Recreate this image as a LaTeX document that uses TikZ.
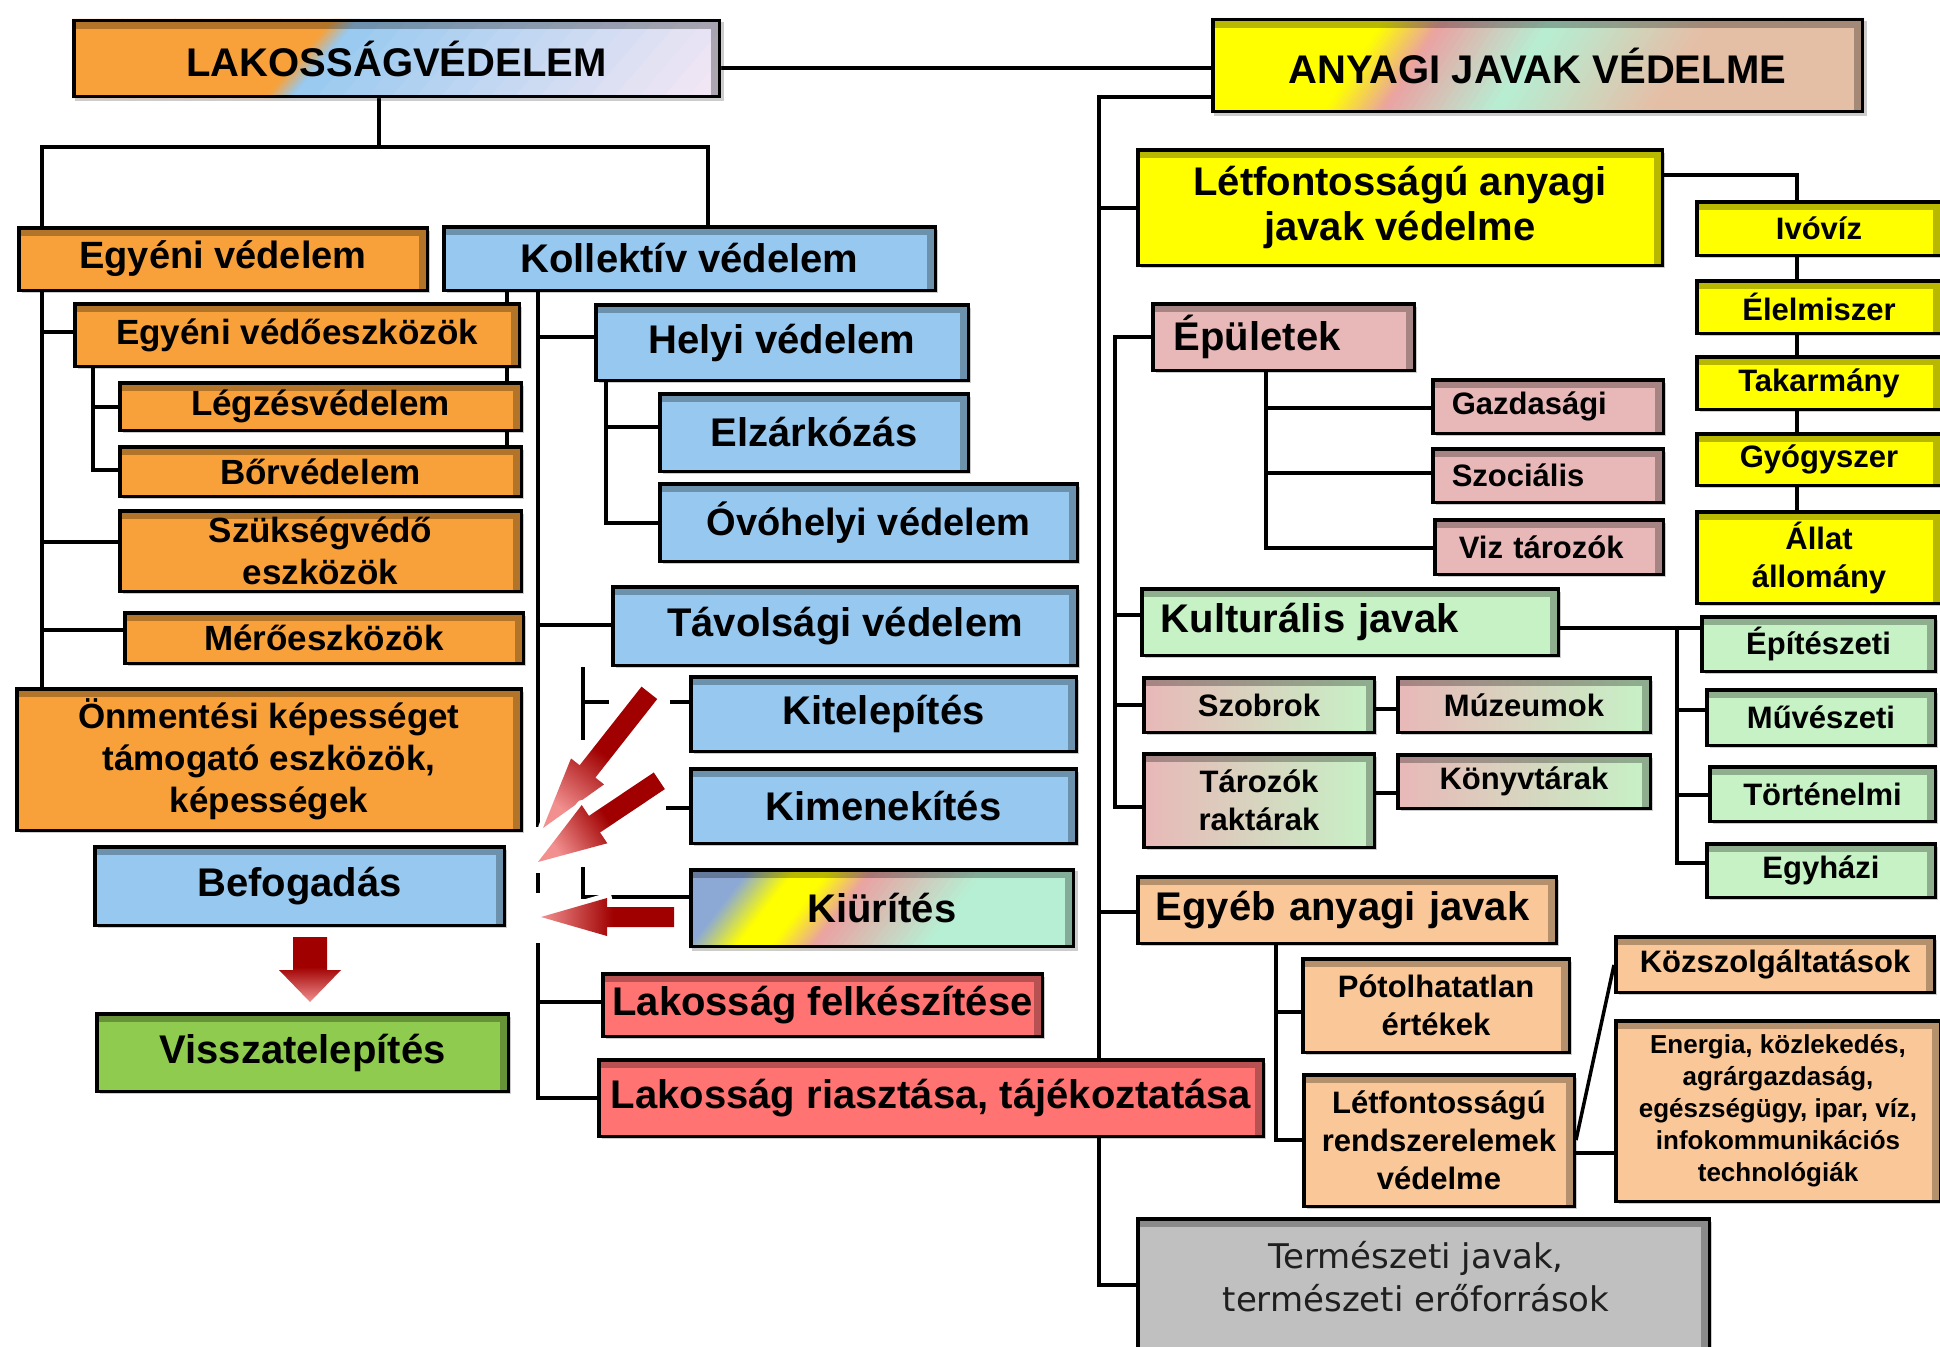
\documentclass[tikz,border=0pt]{standalone}
\usepackage{fontspec}
\setmainfont{Liberation Sans}
\newfontfamily\dvs{DejaVu Sans}
\usetikzlibrary{shadows,calc}
\pgfdeclarelayer{bg}
\pgfsetlayers{bg,main}

\definecolor{cOr}{HTML}{F8A13A}
\definecolor{cBl}{HTML}{97C9F0}
\definecolor{cRd}{HTML}{FF7373}
\definecolor{cGr}{HTML}{8FCB4E}
\definecolor{cYe}{HTML}{FFFF00}
\definecolor{cPk}{HTML}{E8B8B8}
\definecolor{cLg}{HTML}{C6F2C6}
\definecolor{cPe}{HTML}{FAC898}
\definecolor{cGy}{HTML}{C0C0C0}
\definecolor{cLav}{HTML}{F0E6F4}
\definecolor{cBg}{HTML}{8CA9D6}
\definecolor{cMint}{HTML}{B6EFD4}
\definecolor{cTan}{HTML}{E4BFA6}
\definecolor{cPkk}{HTML}{EAA2A2}
\definecolor{arD}{HTML}{A00000}
\definecolor{arL}{HTML}{F29090}

\pgfdeclarehorizontalshading{arrsh}{100bp}{color(0bp)=(arL); color(25bp)=(arL); color(52bp)=(arD); color(100bp)=(arD)}

\tikzset{
  box/.style={draw=black, line width=3.5pt, rectangle, inner sep=0pt, align=center, text=black,
    path picture={
      \fill[black,opacity=0.28] (path picture bounding box.north west) rectangle ([yshift=-8pt]path picture bounding box.north east);
      \fill[black,opacity=0.28] ([xshift=-8pt,yshift=-8pt]path picture bounding box.north east) rectangle (path picture bounding box.south east);}},
  shd/.style={drop shadow={shadow xshift=3pt, shadow yshift=-3pt, opacity=0.2, fill=black}},
  fA/.style={font=\bfseries\fontsize{40}{45}\selectfont},
  fAs/.style={font=\bfseries\fontsize{38}{45}\selectfont},
  fB/.style={font=\bfseries\fontsize{35}{42}\selectfont},
  fC/.style={font=\bfseries\fontsize{31}{38}\selectfont},
  fD/.style={font=\bfseries\fontsize{26}{32}\selectfont},
  oBox/.style={fill=cOr, shd},
  bBox/.style={fill=cBl, shd},
  rBox/.style={fill=cRd, shd},
  gBox/.style={fill=cGr, shd},
  yBox/.style={fill=cYe, shd},
  pBox/.style={fill=cPk, shd},
  lBox/.style={fill=cLg, shd},
  eBox/.style={fill=cPe, shd},
  tBox/.style={fill=cGy, shd},
  pgBox/.style={left color=cPk, right color=cLg, shd},
  ln/.style={line width=3.5pt, draw=black},
}

% box given by its outer corners: [options]{name}{x1}{y1}{x2}{y2}{text}
\newcommand\bx[7][]{%
  \pgfmathsetmacro\bw{#5-#3-3.5}%
  \pgfmathsetmacro\bh{#6-#4-3.5}%
  \node[box,minimum width=\bw pt,minimum height=\bh pt,#1] (#2) at ({(#3+#5)/2},{(#4+#6)/2}) {#7};}
% same, text flush left with a given padding
\newcommand\bxl[8][]{%
  \pgfmathsetmacro\bw{#5-#3-3.5}%
  \pgfmathsetmacro\bh{#6-#4-3.5}%
  \pgfmathsetmacro\tw{#5-#3-3.5-2*#7}%
  \node[box,minimum width=\bw pt,minimum height=\bh pt,text width=\tw pt,align=left,#1] (#2) at ({(#3+#5)/2},{(#4+#6)/2}) {#8};}
% slanted multi-colour fill: x1 y1 x2 y2, half slant, segments from/to/colour/colour
\newcommand\sgrad[6]{%
  \begin{scope}
    \fill[black,opacity=0.2] (#1+3,#2+3) rectangle (#3+3,#4+3);
    \clip (#1,#2) rectangle (#3,#4);
    \foreach \ta/\tb/\ca/\cb in {#6} {
      \foreach \k in {0,...,15} {
        \pgfmathsetmacro\xu{#1+((\ta)+((\tb)-(\ta))*\k/16)*(#3-#1)}
        \pgfmathsetmacro\xv{#1+((\ta)+((\tb)-(\ta))*(\k+1)/16)*(#3-#1)+0.8}
        \pgfmathtruncatemacro\pc{100-100*(\k+0.5)/16}
        \fill[fill=\ca!\pc!\cb] (\xu-#5,#4) -- (\xv-#5,#4) -- (\xv+#5,#2) -- (\xu+#5,#2) -- cycle;
      }
    }
  \end{scope}}
% block arrow: tip x, tip y, direction to tail, length, head length, head half width, shaft half width, shading angle
\newcommand\rarrow[8]{%
  \shade[shading=arrsh, shading angle=#8,
    preaction={draw=white, line width=10pt, line join=round, fill=white}]
    (#1,#2) -- ($(#1,#2)+(#3:#5)+({#3+90}:#6)$) -- ($(#1,#2)+(#3:#5)+({#3+90}:#7)$)
    -- ($(#1,#2)+(#3:#4)+({#3+90}:#7)$) -- ($(#1,#2)+(#3:#4)+({#3-90}:#7)$)
    -- ($(#1,#2)+(#3:#5)+({#3-90}:#7)$) -- ($(#1,#2)+(#3:#5)+({#3-90}:#6)$) -- cycle;}

\begin{document}
\begin{tikzpicture}[x=1pt,y=-1pt]
\useasboundingbox (0,0) rectangle (1940,1346);
\clip (0,0) rectangle (1940,1346);

% ---------- population protection ----------
\sgrad{72}{19}{721}{98}{34}{-0.3/0.35/cOr/cOr, 0.35/0.39/cOr/cBl, 0.39/1.0/cBl/cLav, 1.0/1.3/cLav/cLav}
\bx[fA]{lak}{72}{19}{721}{98}{LAKOSSÁGVÉDELEM}
\bx[oBox,fAs]{egy}{17}{226}{429}{292}{Egyéni védelem}
\bx[bBox,fA]{kol}{442}{225}{937}{292}{Kollektív védelem}
\bx[oBox,fB]{eve}{73}{302}{521}{368}{Egyéni védőeszközök}
\bx[oBox,fB]{lgz}{118}{381}{523}{432}{Légzésvédelem}
\bx[oBox,fB]{bor}{118}{445}{523}{498}{Bőrvédelem}
\bx[oBox,fB]{szv}{118}{509}{523}{593}{Szükségvédő\\eszközök}
\bx[oBox,fB]{mer}{123}{611}{525}{665}{Mérőeszközök}
\bx[oBox,fB]{onm}{15}{687}{523}{832}{Önmentési képességet\\támogató eszközök,\\képességek}
\bx[bBox,fA]{bef}{93}{845}{506}{927}{Befogadás}
\bx[gBox,fA]{vis}{95}{1012}{510}{1093}{Visszatelepítés}
\bx[bBox,fA]{hel}{594}{303}{970}{382}{Helyi védelem}
\bx[bBox,fA]{elz}{658}{392}{970}{473}{Elzárkózás}
\bx[bBox,fAs]{ovo}{658}{482}{1079}{563}{Óvóhelyi védelem}
\bx[bBox,fA]{tav}{611}{585}{1079}{667}{Távolsági védelem}
\bx[bBox,fA]{kit}{689}{675}{1078}{753}{Kitelepítés}
\bx[bBox,fA]{kim}{689}{767}{1078}{845}{Kimenekítés}
\sgrad{689}{868}{1075}{948}{31}{-0.3/0.08/cBg/cBg, 0.08/0.2/cBg/cYe, 0.2/0.29/cYe/cYe, 0.29/0.4/cYe/cPkk, 0.4/0.69/cPkk/cMint, 0.69/1.3/cMint/cMint}
\bx[fA]{kiu}{689}{868}{1075}{948}{Kiürítés}
\bx[rBox,fA]{lfe}{601}{972}{1044}{1038}{Lakosság felkészítése}
\bx[rBox,fA]{lri}{597}{1058}{1265}{1138}{Lakosság riasztása, tájékoztatása}

% ---------- protection of material goods ----------
\sgrad{1211}{18}{1864}{113}{31}{-0.3/0.22/cYe/cYe, 0.22/0.31/cYe/cPkk, 0.31/0.48/cPkk/cMint, 0.48/0.72/cMint/cTan, 0.72/1.3/cTan/cTan}
\bx[fA]{any}{1211}{18}{1864}{113}{ANYAGI JAVAK VÉDELME}
\bx[yBox,fA]{lan}{1136}{148}{1664}{267}{Létfontosságú anyagi\\javak védelme}
\bx[yBox,fC]{ivo}{1695}{200}{1943}{257}{Ivóvíz}
\bx[yBox,fC]{ele}{1695}{279}{1943}{335}{Élelmiszer}
\bx[yBox,fC]{tak}{1695}{355}{1943}{411}{Takarmány}
\bx[yBox,fC]{gyo}{1695}{432}{1943}{487}{Gyógyszer}
\bx[yBox,fC]{all}{1695}{510}{1943}{605}{Állat\\állomány}
\bxl[pBox,fA]{epu}{1151}{302}{1416}{372}{21}{Épületek}
\bxl[pBox,fC]{gaz}{1431}{378}{1665}{435}{19}{Gazdasági}
\bxl[pBox,fC]{szo}{1431}{447}{1665}{504}{19}{Szociális}
\bxl[pBox,fC]{viz}{1433}{518}{1665}{576}{24}{Viz tározók}
\bxl[lBox,fA]{kul}{1140}{587}{1560}{657}{19}{Kulturális javak}
\bx[lBox,fC]{esz}{1700}{615}{1937}{673}{Építészeti}
\bx[lBox,fC]{muv}{1705}{688}{1937}{747}{Művészeti}
\bx[lBox,fC]{tor}{1708}{765}{1937}{823}{Történelmi}
\bx[lBox,fC]{egh}{1705}{842}{1937}{899}{Egyházi}
\bx[pgBox,fC]{szb}{1142}{676}{1376}{734}{Szobrok}
\bx[pgBox,fC]{muz}{1396}{676}{1652}{734}{Múzeumok}
\bx[pgBox,fC]{tar}{1142}{752}{1376}{849}{Tározók\\raktárak}
\bx[pgBox,fC]{kon}{1396}{753}{1652}{810}{Könyvtárak}
\bxl[eBox,fA]{egb}{1136}{875}{1558}{945}{18}{Egyéb anyagi javak}
\bx[eBox,fC]{pot}{1301}{957}{1571}{1054}{Pótolhatatlan\\értékek}
\bx[eBox,fC]{lre}{1302}{1073}{1576}{1208}{Létfontosságú\\rendszerelemek\\védelme}
\bx[eBox,fC]{koz}{1614}{935}{1936}{994}{Közszolgáltatások}
\bx[eBox,fD]{ene}{1614}{1019}{1942}{1203}{Energia, közlekedés,\\agrárgazdaság,\\egészségügy, ipar, víz,\\infokommunikációs\\technológiák}
\bx[tBox]{ter}{1136}{1217}{1711}{1362}{}
\node[font=\dvs\fontsize{34}{43}\selectfont, align=center, text=black!88] (tertx) at (1416,1277) {Természeti javak,\\természeti erőforrások};

% ---------- red block arrows ----------
\rarrow{543}{828}{-51.8}{172}{72}{21}{10}{51.8}
\rarrow{538}{862}{-33.8}{146}{68}{23}{10}{33.8}
\rarrow{541}{917}{0}{133}{66}{19}{10}{0}
\rarrow{310}{1002}{-90}{65}{32}{31}{17}{90}

% ---------- connectors ----------
\begin{pgfonlayer}{bg}
\fill[white] (0,0) rectangle (1940,1346);
\begin{scope}[ln]
  \draw (379,0 |- lak.south) -- (379,147);
  \draw (42,0 |- egy.north) |- (708,147) -- (708,0 |- kol.north);
  \draw (lak.east |- 0,68) -- (any.west |- 0,68);
  % individual protection
  \draw (42,0 |- egy.south) -- (42,0 |- onm.north);
  \draw (42,332) -- (eve.west |- 0,332);
  \draw (42,542) -- (szv.west |- 0,542);
  \draw (42,630) -- (mer.west |- 0,630);
  \draw (93,0 |- eve.south) |- (bor.west |- 0,470);
  \draw (93,407) -- (lgz.west |- 0,407);
  \draw (507,0 |- kol.south) -- (507,0 |- bor.north);
  % collective protection
  \draw (538,0 |- kol.south) -- (538,827);
  \draw (538,873) -- (538,893);
  \draw (538,943) |- (lri.west |- 0,1098);
  \draw (538,337) -- (hel.west |- 0,337);
  \draw (538,625) -- (tav.west |- 0,625);
  \draw (538,1002) -- (lfe.west |- 0,1002);
  \draw (606,0 |- hel.south) |- (ovo.west |- 0,523);
  \draw (606,427) -- (elz.west |- 0,427);
  \draw (583,0 |- tav.south) -- (583,740);
  \draw (583,867) |- (kiu.west |- 0,897);
  \draw (583,702) -- (609,702);
  \draw (670,702) -- (kit.west |- 0,702);
  \draw (666,808) -- (kim.west |- 0,808);
  % material goods
  \draw (any.west |- 0,97) -| (1099,1285) -- (ter.west |- 0,1285);
  \draw (1099,208) -- (lan.west |- 0,208);
  \draw (1099,912) -- (egb.west |- 0,912);
  \draw (epu.west |- 0,337) -| (1115,807) -- (tar.west |- 0,807);
  \draw (1115,615) -- (kul.west |- 0,615);
  \draw (1115,705) -- (szb.west |- 0,705);
  \draw (1266,0 |- epu.south) |- (viz.west |- 0,548);
  \draw (1266,408) -- (gaz.west |- 0,408);
  \draw (1266,473) -- (szo.west |- 0,473);
  \draw (lan.east |- 0,175) -| (1797,0 |- all.north);
  \draw (kul.east |- 0,628) -- (esz.west |- 0,628);
  \draw (1677,628) |- (egh.west |- 0,863);
  \draw (1677,710) -- (muv.west |- 0,710);
  \draw (1677,795) -- (tor.west |- 0,795);
  \draw (szb.east |- 0,709) -- (muz.west |- 0,709);
  \draw (tar.east |- 0,793) -- (kon.west |- 0,793);
  \draw (1276,0 |- egb.south) |- (lre.west |- 0,1140);
  \draw (1276,1012) -- (pot.west |- 0,1012);
  \draw (lre.east |- 0,1153) -- (ene.west |- 0,1153);
  \draw (lre.east |- 0,1140) -- (koz.west |- 0,965);
\end{scope}
\end{pgfonlayer}
\end{tikzpicture}
\end{document}
